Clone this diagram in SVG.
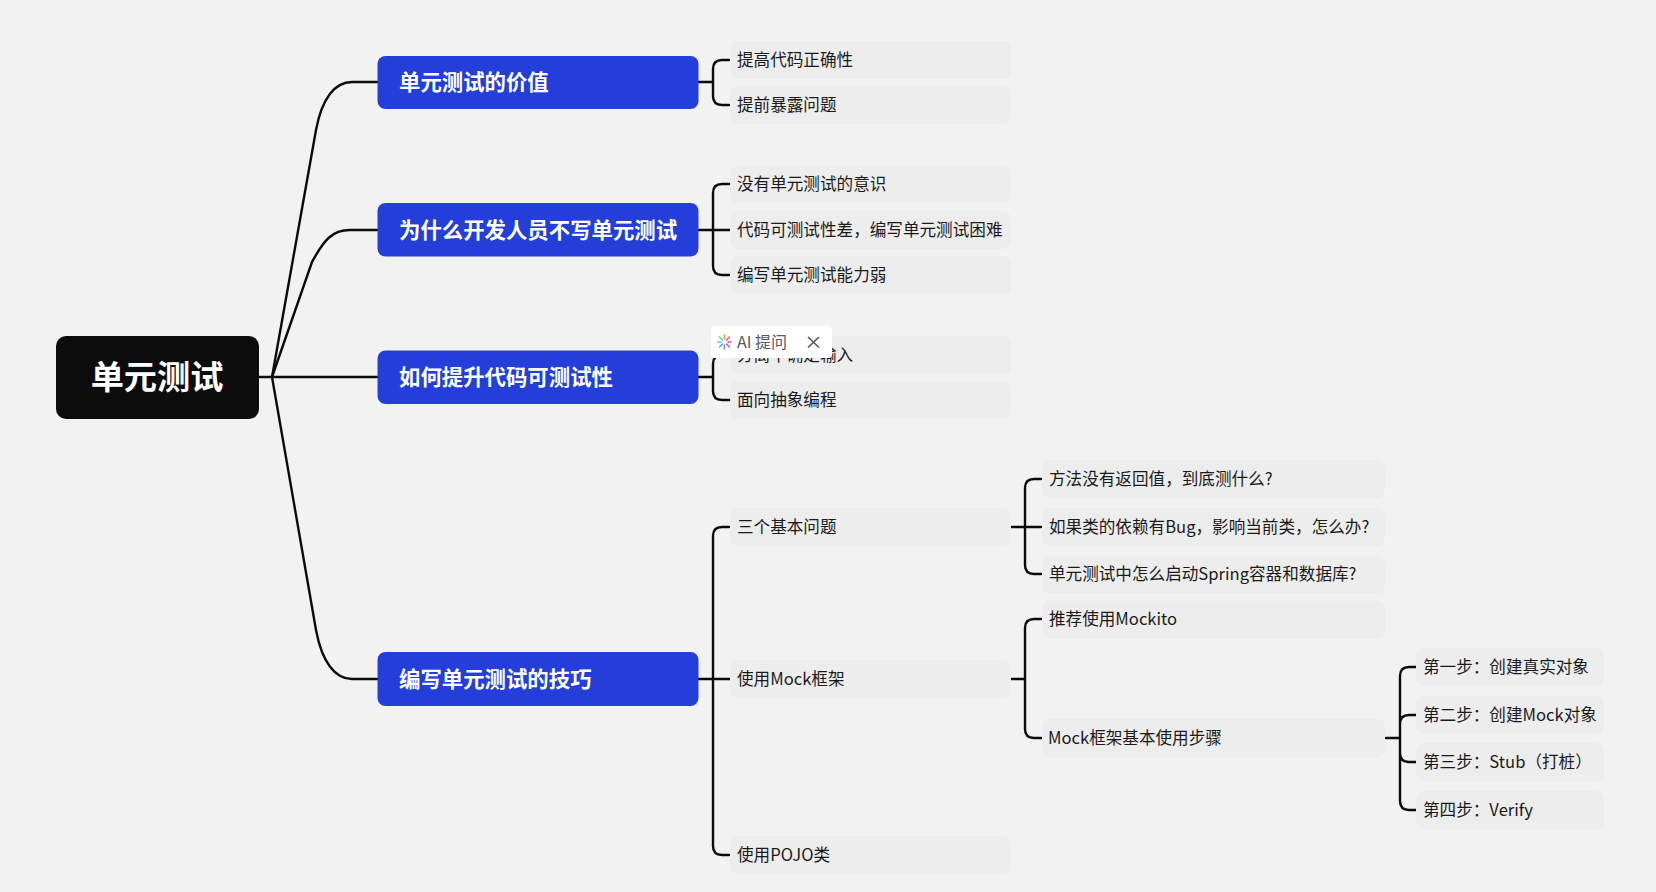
<svg xmlns="http://www.w3.org/2000/svg" width="1656" height="892" viewBox="0 0 1656 892">
<style>
text{font-family:"Noto Sans CJK SC","Noto Sans","Liberation Sans",sans-serif;dominant-baseline:central}
.c{fill:none;stroke:#0b0b0b;stroke-width:2.4;stroke-linecap:round}
.l{fill:#ededed}
.lt{fill:#1a1a1a;font-size:16.6px;transform:translateY(-1.2px)}
.b{fill:#233ed9}
.bt{fill:#fff;font-size:21.400px;font-weight:700;transform:translateY(-1.2px)}
</style>
<rect width="1656" height="892" fill="#f2f2f2"/>
<g id="connectors">
<path class="c" d="M258 377H377"/>
<path class="c" d="M272 377L316 130C322 98 335 82 352 82H377"/>
<path class="c" d="M272 377L312 262C324 240 332 230 350 230H377"/>
<path class="c" d="M272 377L316 630C322 662 335 679 352 679H377"/>
<path class="c" d="M698 82H713M729 60H722Q713 60 713 69V96Q713 105 722 105H729"/>
<path class="c" d="M698 230H730M729 184H722Q713 184 713 193V266Q713 275 722 275H729"/>
<path class="c" d="M698 377H713M713 364Q713 355 722 355H729M713 364V391Q713 400 722 400H729"/>
<path class="c" d="M698 679H730M729 527H722Q713 527 713 536V846Q713 855 722 855H729"/>
<path class="c" d="M1011 527H1041M1041 479H1034Q1025 479 1025 488V565Q1025 574 1034 574H1041"/>
<path class="c" d="M1011 679H1025M1041 619H1034Q1025 619 1025 628V729Q1025 738 1034 738H1041"/>
<path class="c" d="M1386 738H1400M1416 667H1409Q1400 667 1400 676V801Q1400 810 1409 810H1416M1416 715H1409Q1400 715 1400 724V753Q1400 762 1409 762H1416"/>
</g>
<g id="root"><rect x="56" y="336" width="203" height="83" rx="10" fill="#0c0c0c"/><text x="157" y="374.500" text-anchor="middle" fill="#fff" font-size="33.200" font-weight="700">单元测试</text></g>
<g id="b1"><rect class="b" x="377.500" y="56" width="321" height="53" rx="8"/><text class="bt" x="399" y="81.500">单元测试的价值</text></g>
<g id="b2"><rect class="b" x="377.500" y="203" width="321" height="53.500" rx="8"/><text class="bt" x="399" y="229.500">为什么开发人员不写单元测试</text></g>
<g id="b3"><rect class="b" x="377.500" y="350.500" width="321" height="53.500" rx="8"/><text class="bt" x="399" y="376.500">如何提升代码可测试性</text></g>
<g id="b4"><rect class="b" x="377.500" y="652" width="321" height="54" rx="8"/><text class="bt" x="399" y="678.500">编写单元测试的技巧</text></g>
<g id="n1"><rect class="l" x="730" y="41" width="281" height="38" rx="8"/><text class="lt" x="737" y="60">提高代码正确性</text></g>
<g id="n2"><rect class="l" x="730" y="86" width="281" height="38" rx="8"/><text class="lt" x="737" y="105">提前暴露问题</text></g>
<g id="n3"><rect class="l" x="730" y="166" width="281" height="37" rx="8"/><text class="lt" x="737" y="184.500">没有单元测试的意识</text></g>
<g id="n4"><rect class="l" x="730" y="211" width="281" height="38" rx="8"/><text class="lt" x="737" y="230">代码可测试性差，编写单元测试困难</text></g>
<g id="n5"><rect class="l" x="730" y="256" width="281" height="38" rx="8"/><text class="lt" x="737" y="275">编写单元测试能力弱</text></g>
<g id="n6"><rect class="l" x="730" y="336" width="281" height="38" rx="8"/><text class="lt" x="737" y="355">分离不确定输入</text></g>
<g id="n7"><rect class="l" x="730" y="381" width="281" height="38" rx="8"/><text class="lt" x="737" y="400">面向抽象编程</text></g>
<g id="n8"><rect class="l" x="730" y="508" width="281" height="38" rx="8"/><text class="lt" x="737" y="527">三个基本问题</text></g>
<g id="n9"><rect class="l" x="730" y="660" width="281" height="38" rx="8"/><text class="lt" x="737" y="679">使用Mock框架</text></g>
<g id="n10"><rect class="l" x="730" y="836" width="281" height="38" rx="8"/><text class="lt" x="737" y="855">使用POJO类</text></g>
<g id="n11"><rect class="l" x="1042" y="460" width="343" height="38" rx="8"/><text class="lt" x="1049" y="479">方法没有返回值，到底测什么?</text></g>
<g id="n12"><rect class="l" x="1042" y="508" width="343" height="38" rx="8"/><text class="lt" x="1049" y="527">如果类的依赖有Bug，影响当前类，怎么办?</text></g>
<g id="n13"><rect class="l" x="1042" y="555.500" width="343" height="38" rx="8"/><text class="lt" x="1049" y="574.500">单元测试中怎么启动Spring容器和数据库?</text></g>
<g id="n14"><rect class="l" x="1042" y="600.500" width="343" height="38" rx="8"/><text class="lt" x="1049" y="619.500">推荐使用Mockito</text></g>
<g id="n15"><rect class="l" x="1042" y="719" width="343" height="38" rx="8"/><text class="lt" x="1048" y="738.500">Mock框架基本使用步骤</text></g>
<g id="n16"><rect class="l" x="1416" y="648" width="188" height="38" rx="8"/><text class="lt" x="1423" y="667">第一步：创建真实对象</text></g>
<g id="n17"><rect class="l" x="1416" y="696" width="188" height="38" rx="8"/><text class="lt" x="1423" y="715">第二步：创建Mock对象</text></g>
<g id="n18"><rect class="l" x="1416" y="743" width="188" height="38" rx="8"/><text class="lt" x="1423" y="762">第三步：Stub（打桩）</text></g>
<g id="n19"><rect class="l" x="1416" y="791" width="188" height="38" rx="8"/><text class="lt" x="1423" y="810">第四步：Verify</text></g>
<g id="ai-popup">
<rect x="711" y="326" width="121" height="32" rx="4" fill="#fff"/>
<g stroke-width="1.600" stroke-linecap="round">
<path d="M724.500 335V339" stroke="#e8a33d"/><path d="M729.500 337L726.500 340" stroke="#e0559a"/><path d="M731 342H728" stroke="#e0559a"/><path d="M729.500 347L726.500 344" stroke="#b665e0"/><path d="M724.500 349V345" stroke="#6a8ff0"/><path d="M719.500 347L722.500 344" stroke="#5aa8f0"/><path d="M718 342H721" stroke="#5ac8e0"/><path d="M719.500 337L722.500 340" stroke="#5ac8e0"/>
</g>
<text x="737" y="341" font-size="16" fill="#55596a">AI 提问</text>
<path d="M808 337L819 347.500M819 337L808 347.500" stroke="#55596a" stroke-width="1.700" fill="none"/>
</g>
</svg>
